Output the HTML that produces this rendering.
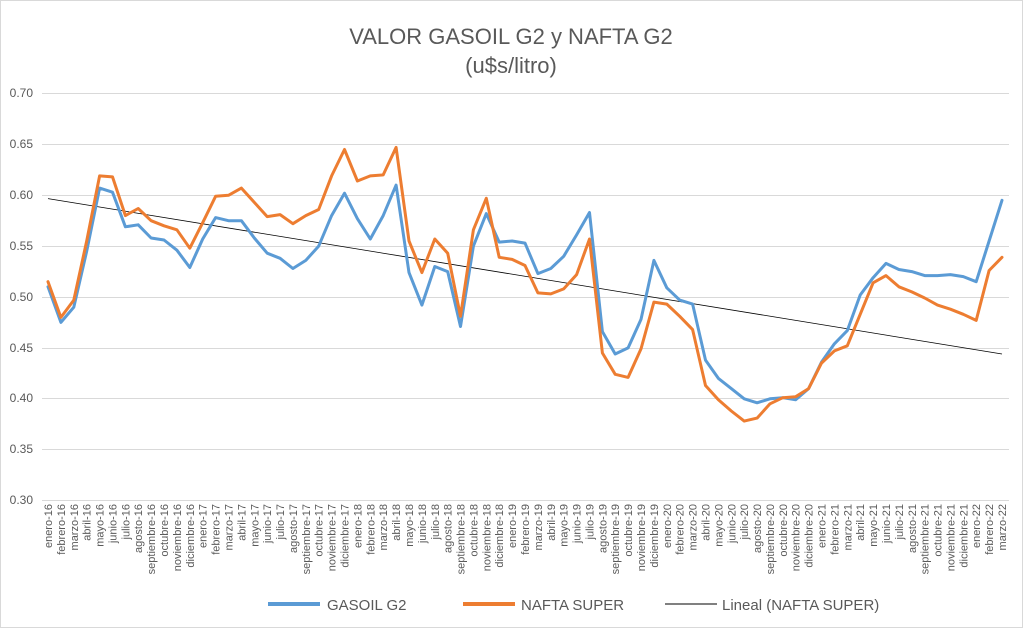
<!DOCTYPE html>
<html><head><meta charset="utf-8"><style>
html,body{margin:0;padding:0;background:#fff;}
svg{display:block;font-family:"Liberation Sans",sans-serif;}
</style></head><body>
<svg id="c" width="1023" height="628" viewBox="0 0 1023 628" xmlns="http://www.w3.org/2000/svg">
<rect x="0.5" y="0.5" width="1022" height="627" fill="#fff" stroke="#d9d9d9"/>
<text x="511" y="44" text-anchor="middle" font-size="22" fill="#595959">VALOR GASOIL G2 y NAFTA G2</text>
<text x="511" y="73" text-anchor="middle" font-size="22" fill="#595959">(u$s/litro)</text>
<g stroke="#d9d9d9" stroke-width="1">
<line x1="42" x2="1009" y1="93.5" y2="93.5"/><line x1="42" x2="1009" y1="144.5" y2="144.5"/>
<line x1="42" x2="1009" y1="195.5" y2="195.5"/><line x1="42" x2="1009" y1="246.5" y2="246.5"/>
<line x1="42" x2="1009" y1="297.5" y2="297.5"/><line x1="42" x2="1009" y1="348.5" y2="348.5"/>
<line x1="42" x2="1009" y1="398.5" y2="398.5"/><line x1="42" x2="1009" y1="449.5" y2="449.5"/>
<line x1="42" x2="1009" y1="500.5" y2="500.5"/>
</g>
<g font-size="12" fill="#595959" text-anchor="end">
<text x="33" y="97">0.70</text><text x="33" y="148">0.65</text><text x="33" y="199">0.60</text>
<text x="33" y="250">0.55</text><text x="33" y="301">0.50</text><text x="33" y="352">0.45</text>
<text x="33" y="402">0.40</text><text x="33" y="453">0.35</text><text x="33" y="504">0.30</text>
</g>
<g id="lbl" font-size="11" fill="#595959" text-anchor="end">
<text>enero-16</text><text>febrero-16</text><text>marzo-16</text><text>abril-16</text><text>mayo-16</text><text>junio-16</text><text>julio-16</text><text>agosto-16</text><text>septiembre-16</text><text>octubre-16</text><text>noviembre-16</text><text>diciembre-16</text>
<text>enero-17</text><text>febrero-17</text><text>marzo-17</text><text>abril-17</text><text>mayo-17</text><text>junio-17</text><text>julio-17</text><text>agosto-17</text><text>septiembre-17</text><text>octubre-17</text><text>noviembre-17</text><text>diciembre-17</text>
<text>enero-18</text><text>febrero-18</text><text>marzo-18</text><text>abril-18</text><text>mayo-18</text><text>junio-18</text><text>julio-18</text><text>agosto-18</text><text>septiembre-18</text><text>octubre-18</text><text>noviembre-18</text><text>diciembre-18</text>
<text>enero-19</text><text>febrero-19</text><text>marzo-19</text><text>abril-19</text><text>mayo-19</text><text>junio-19</text><text>julio-19</text><text>agosto-19</text><text>septiembre-19</text><text>octubre-19</text><text>noviembre-19</text><text>diciembre-19</text>
<text>enero-20</text><text>febrero-20</text><text>marzo-20</text><text>abril-20</text><text>mayo-20</text><text>junio-20</text><text>julio-20</text><text>agosto-20</text><text>septiembre-20</text><text>octubre-20</text><text>noviembre-20</text><text>diciembre-20</text>
<text>enero-21</text><text>febrero-21</text><text>marzo-21</text><text>abril-21</text><text>mayo-21</text><text>junio-21</text><text>julio-21</text><text>agosto-21</text><text>septiembre-21</text><text>octubre-21</text><text>noviembre-21</text><text>diciembre-21</text>
<text>enero-22</text><text>febrero-22</text><text>marzo-22</text>
</g>
<line x1="48" y1="198.6" x2="1002" y2="354" stroke="#000" stroke-width="0.8"/>
<polyline id="g" fill="none" stroke="#5b9bd5" stroke-width="3" stroke-linejoin="round" stroke-linecap="round"/>
<polyline id="n" fill="none" stroke="#ed7d31" stroke-width="3" stroke-linejoin="round" stroke-linecap="round"/>
<line x1="268" y1="604" x2="320" y2="604" stroke="#5b9bd5" stroke-width="4"/>
<text x="327" y="610" font-size="15" fill="#595959">GASOIL G2</text>
<line x1="463" y1="604" x2="515" y2="604" stroke="#ed7d31" stroke-width="4"/>
<text x="521" y="610" font-size="15" fill="#595959">NAFTA SUPER</text>
<line x1="665" y1="604" x2="717" y2="604" stroke="#000" stroke-width="1"/>
<text x="722" y="610" font-size="15" fill="#595959">Lineal (NAFTA SUPER)</text>
</svg>
<script>
var G=[0.510,0.475,0.490,0.545,0.607,0.603,0.569,0.571,0.558,0.556,0.546,0.529,0.557,0.578,0.575,0.575,0.558,0.543,0.538,0.528,0.536,0.550,0.580,0.602,0.577,0.557,0.580,0.610,0.524,0.492,0.530,0.525,0.471,0.550,0.582,0.554,0.555,0.553,0.523,0.528,0.540,0.561,0.583,0.466,0.444,0.450,0.478,0.536,0.509,0.497,0.493,0.438,0.420,0.410,0.400,0.396,0.400,0.401,0.399,0.410,0.436,0.454,0.467,0.502,0.519,0.533,0.527,0.525,0.521,0.521,0.522,0.520,0.515,0.555,0.595];
var N=[0.515,0.480,0.497,0.555,0.619,0.618,0.580,0.587,0.575,0.570,0.566,0.548,0.573,0.599,0.600,0.607,0.593,0.579,0.581,0.572,0.580,0.586,0.619,0.645,0.614,0.619,0.620,0.647,0.555,0.524,0.557,0.543,0.481,0.566,0.597,0.539,0.537,0.531,0.504,0.503,0.508,0.522,0.557,0.445,0.424,0.421,0.449,0.495,0.493,0.481,0.468,0.413,0.399,0.388,0.378,0.381,0.395,0.401,0.402,0.410,0.435,0.447,0.452,0.483,0.514,0.521,0.510,0.505,0.499,0.492,0.488,0.483,0.477,0.526,0.539];
function X(i){return 48+i*12.892;}
function Y(v){return 500.5-(v-0.3)*1017.5;}
function pts(a){return a.map(function(v,i){return X(i).toFixed(1)+","+Y(v).toFixed(1);}).join(" ");}
document.getElementById("g").setAttribute("points",pts(G));
document.getElementById("n").setAttribute("points",pts(N));
var t=document.getElementById("lbl").getElementsByTagName("text");
for(var i=0;i<t.length;i++){var x=X(i)+4;t[i].setAttribute("transform","translate("+x.toFixed(1)+",504) rotate(-90)");}
</script>
</body></html>
